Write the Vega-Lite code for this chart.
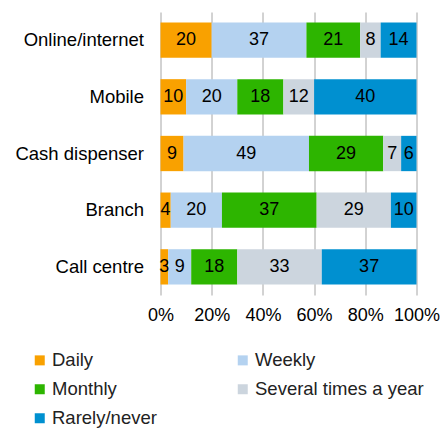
{
  "$schema": "https://vega.github.io/schema/vega-lite/v6.json",
  "width": 256,
  "height": 283,
  "autosize": {"type": "none"},
  "padding": {"left": 160.5, "top": 12, "right": 24.5, "bottom": 133},
  "config": {"font": "Liberation Sans", "view": {"stroke": null}},
  "data": {
    "values": [
      {"channel": "Online/internet", "freq": "Daily", "k": 1, "value": 20},
      {"channel": "Online/internet", "freq": "Weekly", "k": 2, "value": 37},
      {"channel": "Online/internet", "freq": "Monthly", "k": 3, "value": 21},
      {"channel": "Online/internet", "freq": "Several times a year", "k": 4, "value": 8},
      {"channel": "Online/internet", "freq": "Rarely/never", "k": 5, "value": 14},
      {"channel": "Mobile", "freq": "Daily", "k": 1, "value": 10},
      {"channel": "Mobile", "freq": "Weekly", "k": 2, "value": 20},
      {"channel": "Mobile", "freq": "Monthly", "k": 3, "value": 18},
      {"channel": "Mobile", "freq": "Several times a year", "k": 4, "value": 12},
      {"channel": "Mobile", "freq": "Rarely/never", "k": 5, "value": 40},
      {"channel": "Cash dispenser", "freq": "Daily", "k": 1, "value": 9},
      {"channel": "Cash dispenser", "freq": "Weekly", "k": 2, "value": 49},
      {"channel": "Cash dispenser", "freq": "Monthly", "k": 3, "value": 29},
      {"channel": "Cash dispenser", "freq": "Several times a year", "k": 4, "value": 7},
      {"channel": "Cash dispenser", "freq": "Rarely/never", "k": 5, "value": 6},
      {"channel": "Branch", "freq": "Daily", "k": 1, "value": 4},
      {"channel": "Branch", "freq": "Weekly", "k": 2, "value": 20},
      {"channel": "Branch", "freq": "Monthly", "k": 3, "value": 37},
      {"channel": "Branch", "freq": "Several times a year", "k": 4, "value": 29},
      {"channel": "Branch", "freq": "Rarely/never", "k": 5, "value": 10},
      {"channel": "Call centre", "freq": "Daily", "k": 1, "value": 3},
      {"channel": "Call centre", "freq": "Weekly", "k": 2, "value": 9},
      {"channel": "Call centre", "freq": "Monthly", "k": 3, "value": 18},
      {"channel": "Call centre", "freq": "Several times a year", "k": 4, "value": 33},
      {"channel": "Call centre", "freq": "Rarely/never", "k": 5, "value": 37}
    ]
  },
  "encoding": {
    "y": {
      "field": "channel",
      "type": "nominal",
      "sort": ["Online/internet", "Mobile", "Cash dispenser", "Branch", "Call centre"],
      "scale": {"paddingInner": 0.377, "paddingOuter": 0.185},
      "axis": {"title": null, "ticks": false, "domain": false, "grid": false, "labelFontSize": 18.5, "labelColor": "#000", "labelPadding": 17}
    },
    "x": {
      "field": "value",
      "type": "quantitative",
      "stack": "normalize",
      "axis": {
        "title": null,
        "values": [0, 0.2, 0.4, 0.6, 0.8, 1],
        "format": ".0%",
        "grid": true,
        "gridColor": "#a6a6a6",
        "gridWidth": 1,
        "gridOpacity": 1,
        "ticks": false,
        "domain": false,
        "labelFontSize": 18,
        "labelColor": "#000",
        "labelPadding": 11,
        "labelFlush": false
      }
    },
    "order": {"field": "k", "type": "quantitative"}
  },
  "layer": [
    {
      "mark": {"type": "bar"},
      "encoding": {
        "color": {
          "field": "freq",
          "type": "nominal",
          "scale": {
            "domain": ["Daily", "Weekly", "Monthly", "Several times a year", "Rarely/never"],
            "range": ["#f9a100", "#b4d2f0", "#2db500", "#ccd5de", "#0090d0"]
          },
          "legend": {
            "title": null,
            "orient": "none",
            "direction": "horizontal",
            "legendX": -130,
            "legendY": 339,
            "columns": 2,
            "symbolType": "square",
            "symbolSize": 100,
            "symbolStrokeWidth": 0,
            "labelFontSize": 18.5,
            "labelColor": "#222",
            "labelOffset": 3,
            "labelLimit": 300,
            "rowPadding": 10,
            "columnPadding": 76
          }
        }
      }
    },
    {
      "mark": {"type": "text", "fontSize": 18, "color": "#000"},
      "encoding": {
        "x": {"field": "value", "type": "quantitative", "stack": "normalize", "bandPosition": 0.5},
        "text": {"field": "value", "type": "quantitative"}
      }
    }
  ]
}
